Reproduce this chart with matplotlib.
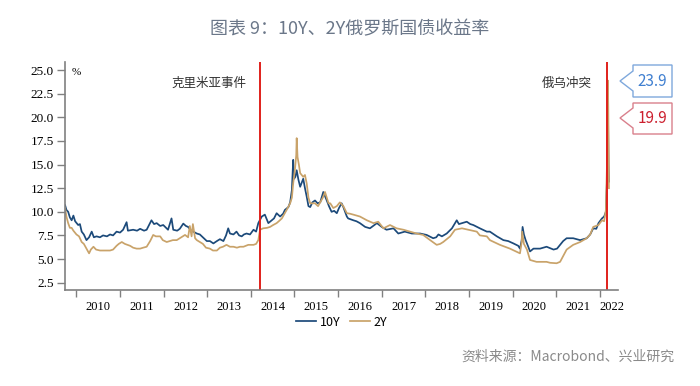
import numpy as np
import matplotlib
matplotlib.use('Agg')
import matplotlib.pyplot as plt
from matplotlib.patches import Polygon

plt.rcParams['font.family'] = ['Noto Sans CJK SC', 'DejaVu Sans']

# 10Y yield (decimal year, %)
t_10y = [2009.74, 2009.77, 2009.81, 2009.85, 2009.89, 2009.93, 2009.97, 2010.04, 2010.08, 2010.12,
         2010.17, 2010.23, 2010.29, 2010.35, 2010.40, 2010.46, 2010.54, 2010.61, 2010.70, 2010.77,
         2010.84, 2010.92, 2011.00, 2011.07, 2011.15, 2011.18, 2011.30, 2011.39, 2011.46, 2011.55,
         2011.61, 2011.72, 2011.78, 2011.84, 2011.92, 2011.99, 2012.10, 2012.18, 2012.22, 2012.31,
         2012.37, 2012.45, 2012.51, 2012.56, 2012.63, 2012.68, 2012.76, 2012.83, 2012.90, 2012.99,
         2013.06, 2013.14, 2013.22, 2013.29, 2013.37, 2013.43, 2013.48, 2013.52, 2013.60, 2013.67,
         2013.73, 2013.79, 2013.84, 2013.90, 2013.98, 2014.06, 2014.12, 2014.17, 2014.25, 2014.32,
         2014.40, 2014.48, 2014.53, 2014.59, 2014.67, 2014.74, 2014.78, 2014.86, 2014.90, 2014.94,
         2014.97, 2014.99, 2015.02, 2015.05, 2015.09, 2015.13, 2015.20, 2015.24, 2015.28, 2015.32,
         2015.36, 2015.41, 2015.47, 2015.53, 2015.59, 2015.66, 2015.74, 2015.79, 2015.85, 2015.91,
         2015.97, 2016.02, 2016.08, 2016.12, 2016.20, 2016.23, 2016.35, 2016.42, 2016.50, 2016.62,
         2016.73, 2016.89, 2017.00, 2017.11, 2017.27, 2017.38, 2017.53, 2017.69, 2017.88, 2018.03,
         2018.18, 2018.25, 2018.30, 2018.38, 2018.49, 2018.61, 2018.72, 2018.77, 2018.84, 2018.95,
         2019.03, 2019.10, 2019.25, 2019.41, 2019.48, 2019.64, 2019.79, 2019.90, 2020.02, 2020.13,
         2020.17, 2020.21, 2020.23, 2020.26, 2020.30, 2020.36, 2020.40, 2020.48, 2020.63, 2020.78,
         2020.94, 2021.02, 2021.09, 2021.16, 2021.24, 2021.39, 2021.55, 2021.70, 2021.78, 2021.85,
         2021.92, 2021.97, 2022.05, 2022.10, 2022.14, 2022.17, 2022.19, 2022.20, 2022.21]
y_10y = [10.7, 10.2, 10.0, 9.4, 9.1, 9.6, 9.0, 8.6, 8.7, 7.9,
         7.6, 7.0, 7.3, 7.9, 7.3, 7.4, 7.3, 7.5, 7.4, 7.6,
         7.5, 7.9, 7.8, 8.1, 8.9, 8.0, 8.1, 8.0, 8.2, 8.0,
         8.1, 9.1, 8.7, 8.8, 8.5, 8.6, 8.1, 9.3, 8.1, 8.0,
         8.2, 8.75, 8.5, 8.4, 8.0, 7.9, 7.7, 7.6, 7.3, 6.9,
         6.9, 6.65, 6.9, 7.1, 6.9, 7.5, 8.25, 7.7, 7.6, 7.9,
         7.5, 7.4, 7.6, 7.7, 7.6, 8.1, 7.9, 8.8, 9.5, 9.7,
         8.8, 9.1, 9.3, 9.85, 9.5, 9.8, 10.2, 10.5, 11.0, 12.3,
         15.5, 13.5, 13.7, 14.4, 13.4, 12.65, 13.5, 12.5, 11.6, 10.6,
         10.5, 11.0, 11.2, 10.9, 11.0, 12.1, 11.2, 10.6, 10.0, 10.1,
         9.85, 10.4, 10.9, 10.5, 9.5, 9.3, 9.1, 9.0, 8.8, 8.4,
         8.25, 8.8, 8.4, 8.1, 8.25, 7.7, 7.9, 7.7, 7.7, 7.55,
         7.2, 7.3, 7.6, 7.4, 7.7, 8.25, 9.1, 8.7, 8.8, 8.95,
         8.7, 8.6, 8.25, 7.9, 7.9, 7.4, 7.0, 6.9, 6.65, 6.4,
         6.1, 7.0, 8.4, 7.6, 7.0, 6.3, 5.8, 6.1, 6.1, 6.3,
         6.0, 6.1, 6.5, 6.9, 7.2, 7.2, 7.0, 7.2, 7.6, 8.25,
         8.2, 8.8, 9.3, 9.5, 10.0, 14.0, 19.9, 15.0, 13.2]

# 2Y yield (decimal year, %)
t_2y = [2009.74, 2009.77, 2009.81, 2009.85, 2009.89, 2009.93, 2010.00, 2010.06, 2010.12, 2010.17,
        2010.23, 2010.29, 2010.33, 2010.39, 2010.45, 2010.54, 2010.65, 2010.77, 2010.84, 2010.92,
        2010.97, 2011.04, 2011.11, 2011.23, 2011.30, 2011.38, 2011.46, 2011.53, 2011.61, 2011.69,
        2011.76, 2011.82, 2011.92, 2011.98, 2012.07, 2012.14, 2012.21, 2012.30, 2012.37, 2012.44,
        2012.49, 2012.56, 2012.60, 2012.64, 2012.67, 2012.72, 2012.76, 2012.83, 2012.90, 2012.97,
        2013.06, 2013.13, 2013.22, 2013.29, 2013.36, 2013.44, 2013.52, 2013.60, 2013.68, 2013.75,
        2013.83, 2013.94, 2014.06, 2014.12, 2014.17, 2014.21, 2014.28, 2014.37, 2014.44, 2014.51,
        2014.59, 2014.64, 2014.71, 2014.76, 2014.82, 2014.90, 2014.94, 2014.97, 2015.01, 2015.04,
        2015.05, 2015.07, 2015.10, 2015.13, 2015.20, 2015.24, 2015.28, 2015.32, 2015.36, 2015.47,
        2015.54, 2015.59, 2015.65, 2015.70, 2015.78, 2015.82, 2015.89, 2015.97, 2016.04, 2016.12,
        2016.20, 2016.27, 2016.35, 2016.50, 2016.66, 2016.81, 2016.92, 2017.04, 2017.19, 2017.34,
        2017.50, 2017.65, 2017.80, 2017.95, 2018.11, 2018.26, 2018.34, 2018.41, 2018.57, 2018.68,
        2018.84, 2018.99, 2019.18, 2019.25, 2019.41, 2019.48, 2019.71, 2019.94, 2020.17, 2020.21,
        2020.22, 2020.26, 2020.33, 2020.40, 2020.55, 2020.78, 2020.86, 2021.01, 2021.09, 2021.16,
        2021.24, 2021.39, 2021.55, 2021.70, 2021.78, 2021.85, 2021.97, 2022.05, 2022.10, 2022.14,
        2022.17, 2022.185, 2022.195, 2022.20, 2022.21]
y_2y = [10.4, 9.5, 8.8, 8.3, 8.3, 8.0, 7.6, 7.4, 6.8, 6.6,
        6.1, 5.6, 6.0, 6.3, 6.0, 5.9, 5.9, 5.9, 6.0, 6.4,
        6.6, 6.8, 6.6, 6.4, 6.2, 6.1, 6.1, 6.2, 6.3, 6.9,
        7.55, 7.4, 7.4, 7.0, 6.8, 6.9, 7.0, 7.0, 7.2, 7.4,
        7.55, 7.3, 8.5, 7.4, 8.7, 7.2, 7.0, 6.8, 6.6, 6.2,
        6.1, 5.9, 5.9, 6.2, 6.3, 6.5, 6.3, 6.3, 6.2, 6.3,
        6.3, 6.5, 6.5, 6.6, 7.0, 8.1, 8.25, 8.3, 8.4, 8.6,
        8.8, 9.0, 9.3, 9.7, 10.2, 10.9, 11.5, 13.0, 14.5, 16.0,
        17.8, 15.8, 15.0, 14.1, 13.7, 13.9, 13.0, 11.5, 10.9, 10.9,
        10.6, 11.0, 11.5, 12.1, 10.9, 10.9, 10.4, 10.6, 11.0, 10.6,
        9.85, 9.8, 9.7, 9.5, 9.1, 8.8, 8.95, 8.25, 8.6, 8.25,
        8.1, 7.9, 7.7, 7.55, 7.0, 6.5, 6.6, 6.8, 7.4, 8.1,
        8.25, 8.1, 7.9, 7.5, 7.4, 7.0, 6.5, 6.1, 5.6, 6.8,
        7.9, 6.6, 6.0, 4.9, 4.7, 4.7, 4.6, 4.55, 4.7, 5.3,
        6.0, 6.5, 6.8, 7.2, 7.6, 8.4, 8.6, 9.1, 9.0, 10.2,
        16.0, 23.9, 21.0, 18.0, 12.5]

years = list(range(2010, 2023))
event_t = [2014.21, 2022.16]
event_txt = ['克里米亚事件', '俄乌冲突']
yticks = [2.5, 5.0, 7.5, 10.0, 12.5, 15.0, 17.5, 20.0, 22.5, 25.0]

c10 = '#1c4a7a'
c2 = '#c9a36a'
grey = '#808080'

fig = plt.figure(figsize=(7, 3.86), dpi=100)
ax = fig.add_axes([0.093, 0.249, 0.79, 0.59])

ax.plot(t_10y, y_10y, color=c10, lw=1.25, label='10Y')
ax.plot(t_2y, y_2y, color=c2, lw=1.25, label='2Y')
for t in event_t:
    ax.axvline(t, color='#e0201b', lw=1.4)

ax.set_xlim(2009.74, 2022.42)
ax.set_ylim(1.73, 25.85)
ax.set_yticks(yticks)
ax.set_yticklabels(['%.1f' % v for v in yticks], family='Liberation Serif', fontsize=9.5)
ax.set_xticks(years)
ax.set_xticklabels([])
ax.set_xticks([y + 0.5 for y in years[:-1]] + [2022.27], minor=True)
ax.set_xticklabels([str(y) for y in years], minor=True, family='Liberation Serif', fontsize=9)
ax.tick_params(axis='x', which='major', direction='out', length=5, width=1, color=grey)
ax.tick_params(axis='x', which='minor', length=0, pad=8)
ax.tick_params(axis='y', direction='out', length=6, width=1, color=grey, pad=2)

for s in ['top', 'right']:
    ax.spines[s].set_visible(False)
for s in ['left', 'bottom']:
    ax.spines[s].set_color(grey)
    ax.spines[s].set_linewidth(1.2)

ax.text(0.012, 0.975, '%', transform=ax.transAxes, family='Liberation Serif', fontsize=8, va='top')
ax.text(event_t[0] - 0.3, 23.6, event_txt[0], ha='right', va='center', fontsize=9, color='#333333')
ax.text(event_t[1] - 0.35, 23.6, event_txt[1], ha='right', va='center', fontsize=9, color='#333333')

ax.legend(loc='upper center', bbox_to_anchor=(0.5, -0.075), ncol=2, frameon=False,
          fontsize=9, handlelength=1.6, handletextpad=0.3, columnspacing=0.8,
          borderpad=0.2)

fig.text(0.5, 0.925, '图表 9：10Y、2Y俄罗斯国债收益率', ha='center', va='center',
         fontsize=13, color='#6b7789')
fig.text(0.964, 0.075, '资料来源：Macrobond、兴业研究', ha='right', va='center',
         fontsize=10, color='#8a8a8a')

# callout boxes with left notch (pixel coordinates from top-left)
W, H = 700, 386
def callout(top, bottom, tipy, edge, txt, tc):
    pts = [(672, top), (633, top), (633, tipy - 10), (620, tipy), (633, tipy + 10),
           (633, bottom), (672, bottom)]
    poly = Polygon([(x / W, 1 - y / H) for x, y in pts], closed=True, fill=True,
                   facecolor='white', edgecolor=edge, lw=1.0, transform=fig.transFigure)
    fig.patches.append(poly)
    fig.text(652.5 / W, 1 - (top + bottom) / 2 / H, txt, ha='center', va='center',
             fontsize=11, color=tc)

callout(65, 97, 81, '#7fa8dc', '23.9', '#3f7fd0')
callout(103, 134, 118, '#d9808c', '19.9', '#cc1f2e')

fig.savefig('out.png', dpi=100)
